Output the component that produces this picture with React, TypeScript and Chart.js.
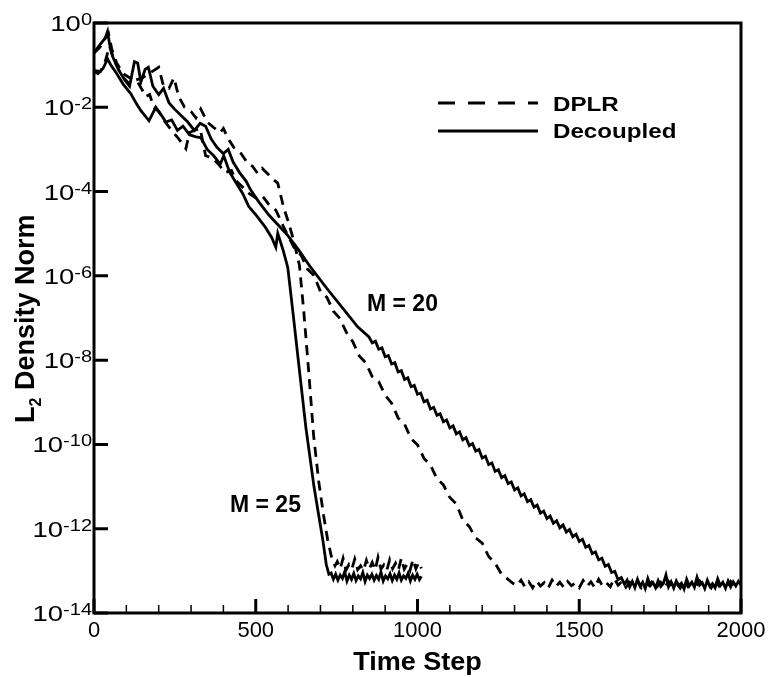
import React, { useEffect, useRef } from 'react';
import { Chart, registerables } from 'chart.js';

Chart.register(...registerables);

// ---------- data (x = time step, y = log10 of L2 density norm) ----------
const xMajorTicks = [0, 500, 1000, 1500, 2000];
const xMinorTicks = [100, 200, 300, 400, 600, 700, 800, 900, 1100, 1200, 1300, 1400, 1600, 1700, 1800, 1900];
const yTickExponents = [0, -2, -4, -6, -8, -10, -12, -14];
const legendLabels = ['DPLR', 'Decoupled'];
const annotationLabels = ['M = 20', 'M = 25'];

const decoupledM20: [number, number][] = [
  [0, -0.71], [15, -0.55], [35, -0.35], [42, -0.2], [48, -0.5], [58, -0.8], [75, -1.1], [95, -1.35],
  [110, -1.5], [125, -0.92], [135, -0.95], [145, -1.4], [158, -1.1], [168, -1.05], [182, -1.5], [200, -1.7],
  [215, -1.55], [232, -1.9], [250, -2.05], [270, -2.2], [290, -2.35], [310, -2.55], [328, -2.38], [345, -2.45],
  [362, -2.75], [380, -2.95], [400, -3.1], [415, -3.0], [430, -3.3], [450, -3.55], [470, -3.75], [485, -3.97],
  [510, -4.25], [540, -4.55], [570, -4.8], [600, -5.05], [633, -5.39], [670, -5.8], [720, -6.3], [770, -6.78],
  [815, -7.21], [850, -7.45], [860, -7.59], [870, -7.55], [880, -7.74], [890, -7.71], [900, -7.92], [910, -7.89],
  [920, -8.09], [930, -8.06], [940, -8.28], [950, -8.25], [960, -8.46], [970, -8.42], [980, -8.63], [990, -8.6],
  [1000, -8.81], [1010, -8.78], [1020, -8.99], [1030, -8.95], [1040, -9.16], [1050, -9.12], [1060, -9.31], [1070, -9.27],
  [1080, -9.46], [1090, -9.42], [1100, -9.61], [1110, -9.56], [1120, -9.75], [1130, -9.7], [1140, -9.89], [1150, -9.84],
  [1160, -10.03], [1170, -9.98], [1180, -10.16], [1190, -10.12], [1200, -10.32], [1210, -10.28], [1220, -10.48], [1230, -10.44],
  [1240, -10.64], [1250, -10.6], [1260, -10.79], [1270, -10.74], [1280, -10.93], [1290, -10.89], [1300, -11.08], [1310, -11.03],
  [1320, -11.22], [1330, -11.17], [1340, -11.36], [1350, -11.31], [1360, -11.49], [1370, -11.44], [1380, -11.63], [1390, -11.58],
  [1400, -11.76], [1410, -11.7], [1420, -11.87], [1430, -11.81], [1440, -11.98], [1450, -11.91], [1460, -12.08], [1470, -12.02],
  [1480, -12.19], [1490, -12.13], [1500, -12.3], [1510, -12.25], [1520, -12.44], [1530, -12.4], [1540, -12.59], [1550, -12.55],
  [1560, -12.74], [1570, -12.7], [1580, -12.89], [1590, -12.85], [1600, -13.04], [1610, -13.01], [1620, -13.21], [1630, -13.16],
  [1640, -13.32], [1648, -13.22], [1656, -13.38], [1664, -13.25], [1672, -13.4], [1680, -13.2], [1688, -13.36], [1696, -13.27],
  [1704, -13.42], [1712, -13.18], [1720, -13.35], [1728, -13.28], [1736, -13.4], [1744, -13.23], [1752, -13.37], [1760, -13.3],
  [1768, -13.1], [1776, -13.38], [1784, -13.26], [1792, -13.41], [1800, -13.24], [1808, -13.35], [1816, -13.29], [1824, -13.43],
  [1832, -13.2], [1840, -13.36], [1848, -13.27], [1856, -13.39], [1864, -13.15], [1872, -13.34], [1880, -13.28], [1888, -13.42],
  [1896, -13.22], [1904, -13.37], [1912, -13.3], [1920, -13.4], [1928, -13.19], [1936, -13.35], [1944, -13.27], [1952, -13.41],
  [1960, -13.24], [1968, -13.38], [1976, -13.26], [1984, -13.36], [1992, -13.25], [2000, -13.33],
];

const dplrM20: [number, number][] = [
  [0, -0.71], [18, -0.58], [38, -0.32], [45, -0.25], [55, -0.62], [70, -0.95], [90, -1.2], [110, -1.3],
  [135, -1.4], [150, -1.6], [160, -1.75], [172, -1.7], [185, -2.0], [200, -2.1], [215, -2.3], [240, -2.55],
  [262, -2.75], [284, -2.98], [295, -2.6], [310, -2.55], [328, -2.5], [345, -3.15], [365, -3.2], [385, -3.35],
  [405, -3.55], [425, -3.5], [440, -3.75], [460, -3.9], [480, -4.05], [500, -4.15], [520, -4.1], [540, -4.3],
  [562, -4.44], [590, -4.9], [620, -5.35], [640, -5.51], [660, -5.84], [680, -5.99], [700, -6.37], [720, -6.51],
  [740, -6.84], [760, -7.01], [780, -7.34], [800, -7.56], [820, -7.9], [840, -8.06], [860, -8.39], [880, -8.51],
  [900, -8.83], [920, -9.02], [940, -9.37], [960, -9.52], [980, -9.86], [1000, -10.01], [1020, -10.33], [1040, -10.49],
  [1060, -10.81], [1080, -10.96], [1100, -11.26], [1120, -11.41], [1140, -11.79], [1160, -11.95], [1180, -12.22], [1200, -12.34],
  [1220, -12.66], [1240, -12.82], [1260, -13.08], [1280, -13.2], [1296, -13.3], [1308, -13.35], [1320, -13.22], [1332, -13.38],
  [1344, -13.26], [1356, -13.4], [1368, -13.24], [1380, -13.36], [1392, -13.28], [1404, -13.41], [1416, -13.22], [1428, -13.37],
  [1440, -13.27], [1452, -13.39], [1464, -13.25], [1476, -13.35], [1488, -13.29], [1500, -13.4], [1512, -13.23], [1524, -13.37],
  [1536, -13.26], [1548, -13.4], [1560, -13.2], [1572, -13.36], [1584, -13.28], [1596, -13.38], [1608, -13.18], [1620, -13.34],
  [1632, -13.25], [1644, -13.39], [1656, -13.27], [1668, -13.36], [1680, -13.24], [1692, -13.4], [1704, -13.28], [1716, -13.35],
  [1728, -13.22], [1740, -13.38], [1752, -13.27], [1764, -13.4], [1776, -13.25], [1788, -13.36], [1800, -13.29], [1812, -13.41],
  [1824, -13.23], [1836, -13.37], [1848, -13.28], [1860, -13.39], [1872, -13.24], [1884, -13.35], [1896, -13.27], [1908, -13.4],
  [1920, -13.22], [1932, -13.36], [1944, -13.29], [1956, -13.38], [1968, -13.25], [1980, -13.37], [1992, -13.27], [2000, -13.32],
];

const decoupledM25: [number, number][] = [
  [0, -1.13], [12, -1.2], [28, -1.08], [42, -0.85], [52, -1.0], [70, -1.2], [90, -1.45], [114, -1.68],
  [130, -1.9], [145, -2.08], [170, -2.32], [191, -2.0], [205, -2.15], [222, -2.35], [240, -2.3], [258, -2.55],
  [275, -2.45], [295, -2.65], [315, -2.7], [330, -2.72], [350, -3.0], [370, -3.15], [390, -3.35], [401, -3.15],
  [420, -3.55], [440, -3.8], [460, -4.05], [478, -4.35], [500, -4.55], [530, -4.85], [550, -5.1], [562, -5.32],
  [568, -4.99], [585, -5.4], [599, -5.8], [614, -6.8], [630, -7.9], [655, -9.6], [680, -11.0], [695, -11.7],
  [708, -12.3], [718, -12.85], [726, -13.08], [733, -13.05], [740, -13.2], [747, -13.08], [754, -13.22], [761, -13.1],
  [768, -13.18], [775, -13.02], [782, -13.24], [789, -13.1], [796, -13.2], [803, -13.06], [810, -13.23], [817, -13.12],
  [824, -13.19], [831, -13.04], [838, -13.25], [845, -13.1], [852, -13.18], [859, -13.08], [866, -13.22], [873, -13.11],
  [880, -13.2], [887, -13.03], [894, -13.24], [901, -13.12], [908, -13.19], [915, -13.07], [922, -13.23], [929, -13.1],
  [936, -13.2], [943, -13.05], [950, -13.22], [957, -13.12], [964, -13.18], [971, -13.06], [978, -13.24], [985, -13.1],
  [992, -13.2], [999, -13.08], [1006, -13.21], [1012, -13.13],
];

const dplrM25: [number, number][] = [
  [0, -1.13], [20, -1.15], [35, -0.9], [48, -0.55], [60, -0.85], [85, -1.25], [110, -1.45], [130, -1.35],
  [150, -1.3], [170, -1.2], [190, -1.1], [200, -1.05], [215, -1.5], [232, -1.55], [247, -1.3], [262, -1.75],
  [280, -2.0], [300, -2.1], [315, -2.25], [330, -2.04], [350, -2.35], [370, -2.48], [390, -2.6], [400, -2.5],
  [415, -2.75], [432, -2.95], [455, -3.1], [475, -3.33], [490, -3.4], [506, -3.57], [520, -3.45], [540, -3.6],
  [555, -3.72], [568, -3.8], [586, -4.37], [600, -4.7], [617, -5.15], [635, -5.75], [648, -6.8], [664, -8.3],
  [679, -9.8], [695, -10.9], [710, -11.7], [722, -12.25], [735, -12.7], [745, -12.88], [752, -12.78], [761, -12.95],
  [770, -12.7], [779, -12.98], [788, -12.85], [797, -12.96], [806, -12.72], [815, -12.97], [824, -12.88], [833, -12.99],
  [842, -12.75], [851, -12.95], [860, -12.8], [869, -12.98], [878, -12.68], [887, -12.96], [896, -12.86], [905, -12.99],
  [914, -12.74], [923, -12.95], [932, -12.82], [941, -12.98], [950, -12.7], [959, -12.96], [968, -12.84], [977, -12.99],
  [986, -12.73], [995, -12.95], [1004, -12.8], [1012, -12.94],
];

const FONT = '"Liberation Sans", Arial, Helvetica, sans-serif';

function toPoints(series: [number, number][]) {
  return series.map(([s, e]) => ({ x: s, y: Math.pow(10, e) }));
}

function drawText(
  ctx: CanvasRenderingContext2D, text: string, x: number, y: number,
  font: string, align: CanvasTextAlign, sx = 1,
) {
  ctx.save();
  ctx.translate(x, y);
  ctx.scale(sx, 1);
  ctx.font = font;
  ctx.textAlign = align;
  ctx.textBaseline = 'alphabetic';
  ctx.fillText(text, 0, 0);
  ctx.restore();
}

const decorPlugin = {
  id: 'decor',
  afterDraw(chart: any) {
    const ctx: CanvasRenderingContext2D = chart.ctx;
    const { left, right, top, bottom } = chart.chartArea;
    const xs = chart.scales.x;
    const ys = chart.scales.y;
    ctx.save();
    ctx.fillStyle = '#000';
    ctx.strokeStyle = '#000';

    // minor x ticks
    ctx.lineWidth = 1.5;
    ctx.beginPath();
    xMinorTicks.forEach((v) => {
      const px = xs.getPixelForValue(v);
      ctx.moveTo(px, bottom);
      ctx.lineTo(px, bottom - 8);
    });
    ctx.stroke();

    // major ticks
    ctx.lineWidth = 3;
    ctx.beginPath();
    xMajorTicks.forEach((v) => {
      const px = xs.getPixelForValue(v);
      ctx.moveTo(px, bottom);
      ctx.lineTo(px, bottom - 14);
    });
    yTickExponents.forEach((e) => {
      const py = ys.getPixelForValue(Math.pow(10, e));
      ctx.moveTo(left, py);
      ctx.lineTo(left + 14, py);
    });
    ctx.stroke();

    // frame
    ctx.lineWidth = 3;
    ctx.strokeRect(left, top, right - left, bottom - top);

    // x tick labels
    xMajorTicks.forEach((v) => {
      const px = xs.getPixelForValue(v);
      drawText(ctx, String(v), px, bottom + 24, `22px ${FONT}`, 'center');
    });

    // y tick labels 10^e
    const sx = 1.25;
    yTickExponents.forEach((e) => {
      const py = ys.getPixelForValue(Math.pow(10, e));
      const sup = String(e);
      ctx.font = `16px ${FONT}`;
      const wSup = ctx.measureText(sup).width * sx;
      ctx.font = `22px ${FONT}`;
      const wBase = ctx.measureText('10').width * sx;
      const rightEdge = left - 2;
      drawText(ctx, '10', rightEdge - wSup - wBase, py + 8, `22px ${FONT}`, 'left', sx);
      drawText(ctx, sup, rightEdge - wSup, py + 2, `16px ${FONT}`, 'left', sx);
    });

    // x title
    drawText(ctx, 'Time Step', (left + right) / 2, 670, `bold 26px ${FONT}`, 'center', 1.04);

    // y title (rotated)
    ctx.save();
    ctx.translate(34, 423);
    ctx.rotate(-Math.PI / 2);
    ctx.font = `bold 27px ${FONT}`;
    ctx.textAlign = 'left';
    ctx.fillText('L', 0, 0);
    const wL = ctx.measureText('L').width;
    ctx.font = `bold 16px ${FONT}`;
    ctx.fillText('2', wL, 7);
    const w2 = ctx.measureText('2').width;
    ctx.font = `bold 27px ${FONT}`;
    ctx.fillText(' Density Norm', wL + w2, 0);
    ctx.restore();

    // legend
    ctx.lineWidth = 3;
    ctx.setLineDash([17, 13]);
    ctx.beginPath();
    ctx.moveTo(438, 103);
    ctx.lineTo(538, 103);
    ctx.stroke();
    ctx.setLineDash([]);
    ctx.beginPath();
    ctx.moveTo(438, 131);
    ctx.lineTo(538, 131);
    ctx.stroke();
    drawText(ctx, legendLabels[0], 553, 111, `bold 21px ${FONT}`, 'left', 1.15);
    drawText(ctx, legendLabels[1], 553, 138, `bold 21px ${FONT}`, 'left', 1.15);

    // annotations
    drawText(ctx, annotationLabels[0], 367, 311, `bold 23px ${FONT}`, 'left');
    drawText(ctx, annotationLabels[1], 230, 512, `bold 23px ${FONT}`, 'left');

    ctx.restore();
  },
};

export default function App() {
  const canvasRef = useRef<HTMLCanvasElement | null>(null);

  useEffect(() => {
    const canvas = canvasRef.current;
    if (!canvas) return;
    const lineBase = {
      borderColor: '#000',
      borderWidth: 2.8,
      pointRadius: 0,
      tension: 0,
      fill: false,
    };
    const chart = new Chart(canvas, {
      type: 'line',
      data: {
        datasets: [
          { ...lineBase, label: 'DPLR M=25', data: toPoints(dplrM25), borderDash: [10, 7] },
          { ...lineBase, label: 'DPLR M=20', data: toPoints(dplrM20), borderDash: [10, 7] },
          { ...lineBase, label: 'Decoupled M=25', data: toPoints(decoupledM25) },
          { ...lineBase, label: 'Decoupled M=20', data: toPoints(decoupledM20) },
        ],
      },
      options: {
        animation: false,
        responsive: false,
        devicePixelRatio: 1,
        layout: { padding: { left: 94, top: 23, right: 29, bottom: 64 } },
        plugins: {
          legend: { display: false },
          tooltip: { enabled: false },
        },
        scales: {
          x: { type: 'linear', min: 0, max: 2000, display: false },
          y: { type: 'logarithmic', min: 1e-14, max: 1, display: false },
        },
      },
      plugins: [decorPlugin],
    });
    return () => chart.destroy();
  }, []);

  return (
    <div style={{ position: 'fixed', left: 0, top: 0, width: 770, height: 677, background: '#fff' }}>
      <canvas ref={canvasRef} width={770} height={677} style={{ display: 'block' }} />
    </div>
  );
}
